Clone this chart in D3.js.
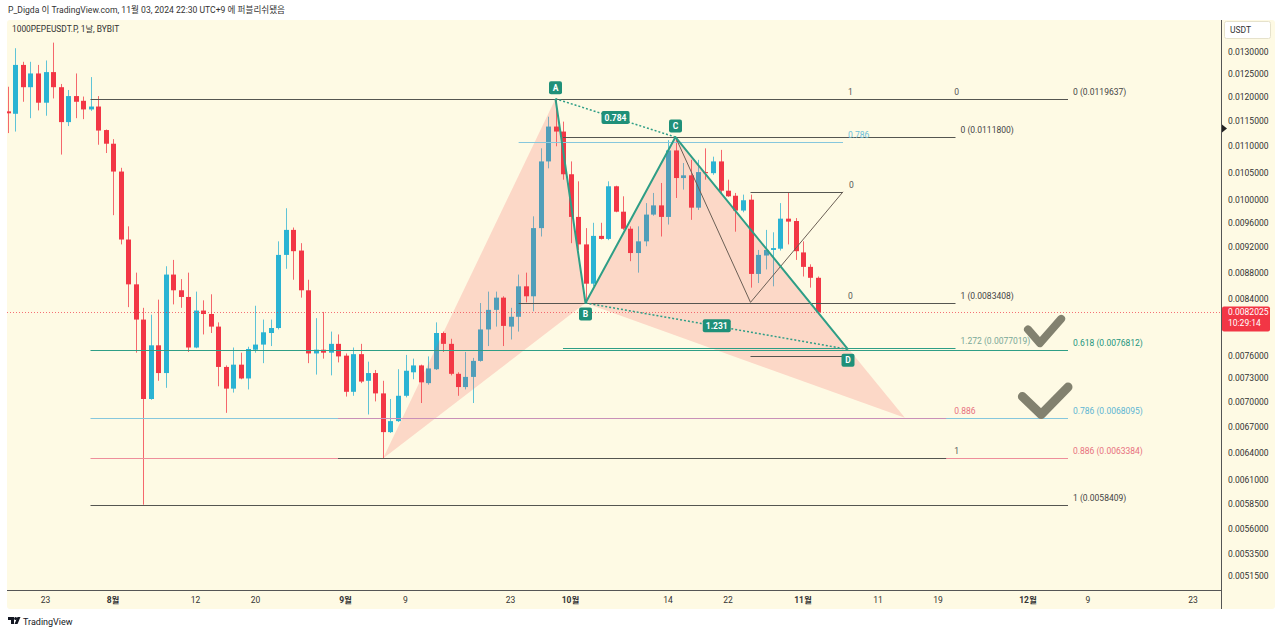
<!DOCTYPE html>
<html><head><meta charset="utf-8">
<script src="https://cdn.jsdelivr.net/npm/d3@7"></script>
<style>
body{margin:0;background:#fff;}
text{font-family:Roboto,"Noto Sans CJK KR",sans-serif;}
</style></head>
<body><svg id="c" width="1280" height="634"></svg>
<script>
// ---------- DATA ----------
const startDate = "2024-07-18"; // first daily candle
const opens  = [0.01170,0.01165,0.01270,0.01221,0.01251,0.01188,0.01254,0.01221,0.01148,0.01202,
0.01192,0.01174,0.01180,0.01132,0.01105,0.01052,0.00933,0.00862,0.00810,0.00704,
0.00774,0.00737,0.00877,0.00853,0.00843,0.00771,0.00823,0.00818,0.00800,0.00745,
0.00717,0.00748,0.00730,0.00768,0.00775,0.00791,0.00798,0.00908,0.00949,0.00915,
0.00853,0.00763,0.00768,0.00764,0.00776,0.00760,0.00713,0.00762,0.00727,0.00737,
0.00711,0.00664,0.00677,0.00708,0.00738,0.00747,0.00724,0.00742,0.00791,0.00776,
0.00736,0.00719,0.00732,0.00753,0.00796,0.00824,0.00842,0.00800,0.00814,0.00859,
0.00844,0.00952,0.01071,0.01139,0.01129,0.01047,0.00971,0.00925,0.00863,0.00939,
0.00934,0.01025,0.00980,0.00951,0.00911,0.00930,0.00975,0.00991,0.00971,0.01092,
0.01040,0.01045,0.00987,0.01051,0.01049,0.01071,0.01017,0.01008,0.00982,0.01001,
0.00878,0.00907,0.00916,0.00918,0.00968,0.00964,0.00912,0.00889,0.00872];
const highs  = [0.01222,0.01308,0.01277,0.01277,0.01270,0.01280,0.01321,0.01228,0.01215,0.01251,
0.01201,0.01243,0.01202,0.01133,0.01114,0.01059,0.00955,0.00880,0.00827,0.00817,
0.00839,0.00890,0.00900,0.00870,0.00880,0.00851,0.00838,0.00847,0.00806,0.00747,
0.00771,0.00764,0.00772,0.00830,0.00810,0.00810,0.00930,0.00986,0.00953,0.00927,
0.00869,0.00812,0.00821,0.00793,0.00789,0.00763,0.00771,0.00776,0.00752,0.00741,
0.00727,0.00704,0.00742,0.00761,0.00756,0.00748,0.00759,0.00806,0.00793,0.00783,
0.00738,0.00765,0.00757,0.00834,0.00851,0.00851,0.00844,0.00827,0.00877,0.00880,
0.00972,0.01096,0.01159,0.0119637,0.01149,0.01071,0.01034,0.00952,0.00961,0.00961,
0.01034,0.01026,0.01007,0.00955,0.00955,0.00995,0.01013,0.01031,0.01112,0.01118,
0.01068,0.01074,0.01074,0.01096,0.01080,0.01093,0.01037,0.01013,0.01010,0.01010,
0.00916,0.00949,0.00945,0.00995,0.01013,0.00969,0.00930,0.00893,0.00874];
const lows   = [0.01126,0.01129,0.01190,0.01156,0.01172,0.01161,0.01197,0.01084,0.01140,0.01156,
0.01154,0.01171,0.01103,0.01087,0.00974,0.00925,0.00828,0.00764,0.0058409,0.00703,
0.00727,0.00718,0.00832,0.00827,0.00765,0.00770,0.00789,0.00791,0.00720,0.00687,
0.00712,0.00729,0.00716,0.00764,0.00750,0.00773,0.00796,0.00886,0.00869,0.00842,
0.00750,0.00735,0.00756,0.00734,0.00751,0.00707,0.00708,0.00724,0.00685,0.00701,
0.0063384,0.00663,0.00676,0.00706,0.00729,0.00699,0.00722,0.00741,0.00765,0.00734,
0.00708,0.00716,0.00699,0.00752,0.00773,0.00800,0.00773,0.00782,0.00793,0.00835,
0.00822,0.00938,0.01058,0.01100,0.01037,0.00927,0.00916,0.0083408,0.00859,0.00933,
0.00932,0.00979,0.00949,0.00898,0.00880,0.00922,0.00973,0.00938,0.00958,0.01004,
0.01019,0.00966,0.00983,0.01037,0.01046,0.01013,0.01006,0.00946,0.00979,0.00857,
0.00864,0.00885,0.00859,0.00915,0.00925,0.00900,0.00874,0.00857,0.00820];
const closes = [0.01166,0.01270,0.01221,0.01251,0.01188,0.01254,0.01221,0.01148,0.01202,0.01190,
0.01174,0.01180,0.01131,0.01105,0.01052,0.00933,0.00862,0.00810,0.00704,0.00774,
0.00737,0.00877,0.00853,0.00843,0.00771,0.00823,0.00818,0.00800,0.00745,0.00717,
0.00748,0.00730,0.00769,0.00775,0.00792,0.00798,0.00908,0.00949,0.00914,0.00853,
0.00763,0.00768,0.00764,0.00776,0.00759,0.00713,0.00762,0.00726,0.00737,0.00711,
0.00664,0.00677,0.00708,0.00740,0.00747,0.00725,0.00743,0.00791,0.00776,0.00736,
0.00719,0.00732,0.00753,0.00796,0.00824,0.00842,0.00801,0.00814,0.00859,0.00844,
0.00952,0.01071,0.01139,0.01129,0.01047,0.00971,0.00925,0.00863,0.00939,0.00934,
0.01025,0.00980,0.00951,0.00911,0.00930,0.00975,0.00991,0.00971,0.01092,0.01040,
0.01045,0.00987,0.01051,0.01049,0.01071,0.01017,0.01007,0.00982,0.01000,0.00878,
0.00908,0.00916,0.00919,0.00968,0.00963,0.00914,0.00889,0.00872,0.0082025];

const priceTicks = [0.013,0.0125,0.012,0.0115,0.011,0.0105,0.01,0.0096,0.0092,0.0088,0.0084,0.008,
  0.0076,0.0073,0.007,0.0067,0.0064,0.0061,0.00585,0.0056,0.00535,0.00515];
const dateTicks = ["2024-07-23","2024-08-01","2024-08-12","2024-08-20","2024-09-01","2024-09-09",
  "2024-09-23","2024-10-01","2024-10-14","2024-10-22","2024-11-01","2024-11-11","2024-11-19",
  "2024-12-01","2024-12-09","2024-12-23"];

const lastPrice = 0.0082025, lastPriceTimer = "10:29:14";

// XABCD (filled) pattern points
const xabcdDates  = ["2024-09-06","2024-09-29","2024-10-03","2024-10-15","2024-11-14T14:00Z"];
const xabcdPrices = [0.0063384,0.0119637,0.0083408,0.01118,0.0068095];
// ABCD pattern points
const abcdNames  = ["A","B","C","D"];
const abcdDates  = ["2024-09-29","2024-10-03","2024-10-15","2024-11-07"];
const abcdPrices = [0.0119637,0.0083408,0.01118,0.007685];
const abcdRatios = ["0.784","1.231"];

// Fibonacci drawings: [startDate, endDate]
const fibLongSpan = ["2024-07-29","2024-12-06T08:00Z"];
const fibLongLabels = ["0 (0.0119637)","0.618 (0.0076812)","0.786 (0.0068095)","0.886 (0.0063384)","1 (0.0058409)"];
const fibLongPrices = [0.0119637,0.0076812,0.0068095,0.0063384,0.0058409];

const fibAXSpan = ["2024-08-31","2024-11-20T02:00Z"];
const fibAXLabels = ["0","0.886","1"];
const fibAXPrices = [0.0119637,0.0068095,0.0063384];

const fibCBSpan = ["2024-09-30","2024-11-21T08:00Z"];
const fibCBLabels = ["0 (0.0111800)","1 (0.0083408)","1.272 (0.0077019)"];
const fibCBPrices = [0.01118,0.0083408,0.0077019];

const fibBASpan = ["2024-09-24T02:00Z","2024-11-06T08:00Z"];
const fibBALabels = ["1","0.786","0"];
const fibBAPrices = [0.0119637,0.011076,0.0083408];

const fibSmallSpan = ["2024-10-25","2024-11-06T08:00Z"];
const fibSmallLabels = ["0",""];
const fibSmallPrices = [0.01015,0.0076];
// trend lines of the small extension (C -> low -> top)
const trendDates  = ["2024-10-15","2024-10-25","2024-11-06T08:00Z"];
const trendPrices = [0.01118,0.00835,0.01015];

// hand drawn check marks
const check1Dates = ["2024-12-01","2024-12-02T14:00Z","2024-12-05T10:00Z"];
const check1Prices = [0.00796,0.00777,0.00811];
const check2Dates = ["2024-11-30T06:00Z","2024-12-02T18:00Z","2024-12-06T08:00Z"];
const check2Prices = [0.00707,0.00685,0.00719];

// ---------- DRAW ----------
const C = {
  bg:"#fefae4", up:"#2ab3d3", down:"#f23645", dark:"#555550", teal:"#2e9e86",
  tealBox:"#1f9079", lblue:"#86c7dd", pink:"#ee8e9b", txt:"#333"
};
const svg = d3.select("#c");
const P = {x0:7, x1:1221, y0:20, y1:590, bottom:609, right:1275};
const pd = s => new Date(s.length===10 ? s+"T00:00:00Z" : s);

const x = d3.scaleUtc().domain([pd("2024-07-23"), pd("2024-12-23")]).range([45.5, 1193]);
const y = d3.scaleLog().domain([0.013, 0.00515]).range([51.7, 576]);

// backgrounds
svg.append("rect").attr("width",1280).attr("height",634).attr("fill","#fff");
svg.append("rect").attr("x",P.x0).attr("y",P.y0).attr("width",P.right-P.x0).attr("height",P.bottom-P.y0)
  .attr("rx",3).attr("fill",C.bg);

svg.append("text").attr("x",8).attr("y",12.5).attr("font-size",8.6).attr("fill",C.txt)
  .text("P_Digda 이 TradingView.com, 11월 03, 2024 22:30 UTC+9 에 퍼블리쉬됐음");

const defs = svg.append("defs");
defs.append("clipPath").attr("id","plot").append("rect")
  .attr("x",P.x0).attr("y",P.y0).attr("width",P.x1-P.x0).attr("height",P.y1-P.y0);
const g = svg.append("g").attr("clip-path","url(#plot)");

// candles
const start = pd(startDate);
const candles = opens.map((o,i)=>({d:d3.utcDay.offset(start,i),o,h:highs[i],l:lows[i],c:closes[i]}));
const cg = g.append("g");
candles.forEach(k=>{
  const cx = Math.round(x(k.d))+0.5;
  const col = k.c>=k.o ? C.up : C.down;
  cg.append("line").attr("x1",cx).attr("x2",cx).attr("y1",y(k.h)).attr("y2",y(k.l))
    .attr("stroke",col).attr("stroke-width",1).attr("opacity",0.75);
  const top = y(Math.max(k.o,k.c)), bot = y(Math.min(k.o,k.c));
  cg.append("rect").attr("x",cx-2.5).attr("y",top).attr("width",5).attr("height",Math.max(1,bot-top)).attr("fill",col);
});

// XABCD fills
const xp = xabcdDates.map((d,i)=>[x(pd(d)), y(xabcdPrices[i])]);
[[0,1,2],[2,3,4]].forEach(t=>{
  g.append("path").attr("d","M"+t.map(i=>xp[i].join(",")).join("L")+"Z")
   .attr("fill","rgba(242,70,75,0.19)").attr("stroke","none");
});

// fib helper
function fib(span, labels, prices, colors, lblColors, lblOffset){
  const x1 = x(pd(span[0])), x2 = x(pd(span[1]));
  prices.forEach((p,i)=>{
    const yy = Math.round(y(p))+0.5;
    g.append("line").attr("x1",x1).attr("x2",x2).attr("y1",yy).attr("y2",yy)
      .attr("stroke",colors[i]).attr("stroke-width",1);
    if(labels[i]) svg.append("text").attr("x",x2+lblOffset).attr("y",yy-5).attr("font-size",8.5)
      .attr("fill",lblColors[i]).text(labels[i]);
  });
}
fib(fibLongSpan, fibLongLabels, fibLongPrices,
  [C.dark,C.teal,C.lblue,C.pink,C.dark],["#444","#23957e","#5db5d3","#e8707e","#444"],5);
fib(fibAXSpan, fibAXLabels, fibAXPrices, [C.dark,"#c990b8",C.dark],["#555","#e8707e","#555"],8);
fib(fibCBSpan, fibCBLabels, fibCBPrices, [C.dark,C.dark,C.teal],["#444","#444","#7aa898"],5);
fib(fibBASpan, fibBALabels, fibBAPrices, [C.dark,C.lblue,C.dark],["#555","#6cc0da","#555"],5);
fib(fibSmallSpan, fibSmallLabels, fibSmallPrices, [C.dark,C.dark],["#555","#555"],6);

// small trend extension lines
const tp = trendDates.map((d,i)=>[x(pd(d)), y(trendPrices[i])]);
g.append("path").attr("d","M"+tp.map(p=>p.join(",")).join("L"))
  .attr("fill","none").attr("stroke","#6b5f55").attr("stroke-width",1);

// current price dotted line
g.append("line").attr("x1",P.x0).attr("x2",P.x1).attr("y1",Math.round(y(lastPrice))+0.5).attr("y2",Math.round(y(lastPrice))+0.5)
  .attr("stroke",C.down).attr("stroke-width",1).attr("stroke-dasharray","1,2").attr("opacity",0.7);

// ABCD pattern
const ap = abcdDates.map((d,i)=>[x(pd(d)), y(abcdPrices[i])]);
g.append("path").attr("d","M"+ap.map(p=>p.join(",")).join("L"))
  .attr("fill","none").attr("stroke",C.teal).attr("stroke-width",2).attr("stroke-linejoin","round");
[[0,2],[1,3]].forEach((pr,k)=>{
  g.append("line").attr("x1",ap[pr[0]][0]).attr("y1",ap[pr[0]][1]).attr("x2",ap[pr[1]][0]).attr("y2",ap[pr[1]][1])
    .attr("stroke",C.teal).attr("stroke-width",1.5).attr("stroke-dasharray","2,2");
  const mx=(ap[pr[0]][0]+ap[pr[1]][0])/2, my=(ap[pr[0]][1]+ap[pr[1]][1])/2;
  g.append("rect").attr("x",mx-14).attr("y",my-7).attr("width",28).attr("height",13).attr("rx",2).attr("fill",C.tealBox);
  g.append("text").attr("x",mx).attr("y",my+3).attr("text-anchor","middle").attr("font-size",8.5)
    .attr("font-weight","bold").attr("fill","#fff").text(abcdRatios[k]);
});
ap.forEach((p,i)=>{
  const above = (i%2===0);
  const cy = above ? p[1]-11 : p[1]+11;
  g.append("rect").attr("x",p[0]-6.5).attr("y",cy-6.5).attr("width",13).attr("height",13).attr("rx",2).attr("fill",C.tealBox);
  g.append("text").attr("x",p[0]).attr("y",cy+3).attr("text-anchor","middle").attr("font-size",8.5)
    .attr("font-weight","bold").attr("fill","#fff").text(abcdNames[i]);
});

// check marks
[[check1Dates,check1Prices,8],[check2Dates,check2Prices,9]].forEach(([ds,ps,w])=>{
  g.append("path").attr("d",d3.line()(ds.map((d,i)=>[x(pd(d)),y(ps[i])])))
    .attr("fill","none").attr("stroke","#82816f").attr("stroke-width",w)
    .attr("stroke-linecap","round").attr("stroke-linejoin","round");
});

// symbol text
svg.append("text").attr("x",12).attr("y",32).attr("font-size",8.4).attr("fill",C.txt).text("1000PEPEUSDT.P, 1날, BYBIT");

// axes frame
svg.append("line").attr("x1",P.x1+0.5).attr("x2",P.x1+0.5).attr("y1",P.y0).attr("y2",P.bottom).attr("stroke","#555").attr("stroke-width",1);
svg.append("line").attr("x1",P.x0).attr("x2",P.x1).attr("y1",P.y1+0.5).attr("y2",P.y1+0.5).attr("stroke","#555").attr("stroke-width",1);

// right axis ticks (the one under the last-price label is hidden, as in the original)
const ly = y(lastPrice);
priceTicks.forEach(t=>{
  const ty = y(t);
  if (ty > ly-9 && ty < ly+22) return;
  svg.append("text").attr("x",1228).attr("y",ty+3).attr("font-size",8.5).attr("fill",C.txt).text(t.toFixed(7));
});
// USDT box
svg.append("rect").attr("x",1224.5).attr("y",21.5).attr("width",46).attr("height",17).attr("rx",2)
  .attr("fill","#fff").attr("stroke","#e6e2cc");
svg.append("text").attr("x",1230).attr("y",33).attr("font-size",8.5).attr("fill",C.txt).text("USDT");
// marker triangle
svg.append("path").attr("d","M1222,124.5L1227,128.5L1222,132.5Z").attr("fill","#222");
// last price label
svg.append("rect").attr("x",1222).attr("y",ly-6).attr("width",48).attr("height",25).attr("rx",2).attr("fill",C.down);
svg.append("text").attr("x",1228).attr("y",ly+3).attr("font-size",8.5).attr("fill","#fff").text(lastPrice.toFixed(7));
svg.append("text").attr("x",1228).attr("y",ly+14).attr("font-size",8.5).attr("fill","#fff").text(lastPriceTimer);

// bottom axis labels
dateTicks.forEach(s=>{
  const d = pd(s);
  const isMonth = d.getUTCDate()===1;
  svg.append("text").attr("x",x(d)).attr("y",603).attr("text-anchor","middle").attr("font-size",8.5)
    .attr("font-weight",isMonth?"bold":"normal").attr("fill",C.txt)
    .text(isMonth ? (d.getUTCMonth()+1)+"월" : d.getUTCDate());
});

// TradingView logo
const lg = svg.append("g").attr("fill","#131722");
lg.append("path").attr("d","M8,617h6v7h-3v-4h-3z");
lg.append("circle").attr("cx",15.6).attr("cy",618.5).attr("r",1.5);
lg.append("path").attr("d","M17.5,617h3l-3,7h-3z");
svg.append("text").attr("x",23).attr("y",624.5).attr("font-size",9).attr("fill","#131722").text("TradingView");
</script></body></html>
